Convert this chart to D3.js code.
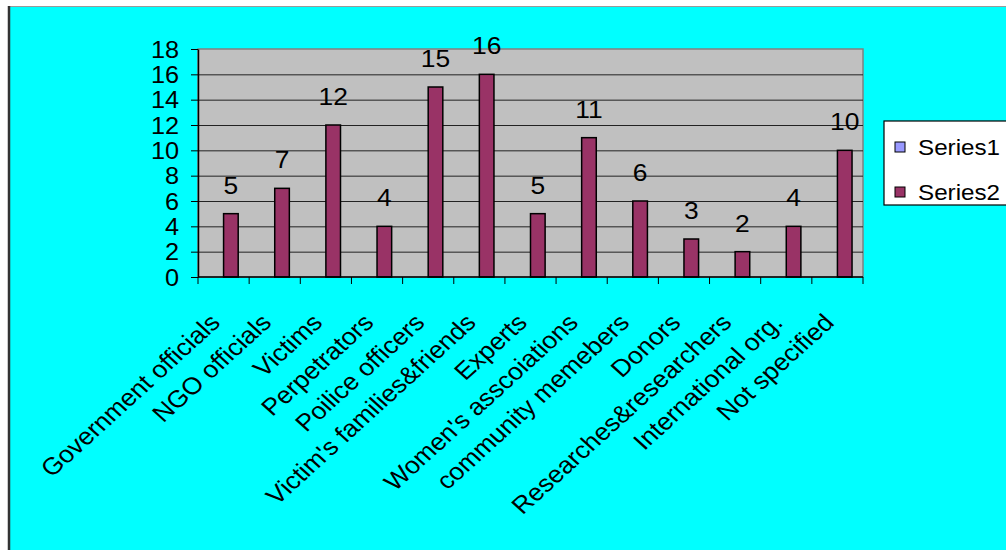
<!DOCTYPE html>
<html>
    <head>
        <meta charset="utf-8">
        <title>Interviewees by group</title>
        <style>
            html, body {margin: 0px;padding: 0px;overflow: hidden;background: #ffffff;font-family: "Liberation Sans", Arial, sans-serif;}
            svg {display: block;}
        </style>
    </head>
    <body>
        <div id="chart"></div>
        <script src="https://cdnjs.cloudflare.com/ajax/libs/d3/7.8.5/d3.min.js"></script>
        <script type="text/javascript">
        // chart values
        var categories = ["Government officials", "NGO officials", "Victims", "Perpetrators", "Poilice officers",
            "Victim's families&friends", "Experts", "Women's asscoiations", "community memebers", "Donors",
            "Researches&researchers", "International org.", "Not specified"];
        var seriesNames = ["Series1", "Series2"];
        var series1 = [null, null, null, null, null, null, null, null, null, null, null, null, null];
        var series2 = [5, 7, 12, 4, 15, 16, 5, 11, 6, 3, 2, 4, 10];
        var yTicks = [0, 2, 4, 6, 8, 10, 12, 14, 16, 18];
        var colors = {Series1: "#9999ff", Series2: "#993366"};

        var width = 1006, height = 550;
        var plot = {left: 198, top: 49, right: 863, bottom: 277};
        var stretch = 1.1; // the reference text is a bit wide

        var svg = d3.select("#chart").append("svg")
            .attr("width", width)
            .attr("height", height);

        // chart area
        svg.append("rect")
            .attr("x", 9).attr("y", 7)
            .attr("width", width).attr("height", height)
            .attr("fill", "#00ffff");
        svg.append("line")
            .attr("x1", 9).attr("x2", width).attr("y1", 6.5).attr("y2", 6.5)
            .attr("stroke", "#999999").attr("stroke-width", 1);
        svg.append("line")
            .attr("x1", 9).attr("x2", 9).attr("y1", 6).attr("y2", height)
            .attr("stroke", "#333333").attr("stroke-width", 2.5);

        var x = d3.scaleBand()
            .domain(categories)
            .range([plot.left, plot.right]);

        var x1 = d3.scaleBand()
            .domain(seriesNames)
            .range([0, x.bandwidth()])
            .paddingOuter(0.75);

        var y = d3.scaleLinear()
            .domain([0, 18])
            .range([plot.bottom, plot.top]);

        // plot area
        svg.append("rect")
            .attr("x", plot.left).attr("y", plot.top)
            .attr("width", plot.right - plot.left).attr("height", plot.bottom - plot.top)
            .attr("fill", "#c0c0c0")
            .attr("stroke", "#808080").attr("stroke-width", 1.5);

        svg.append("g")
            .selectAll("line")
            .data(yTicks.filter(function(d) { return d > 0 && d < 18; }))
          .enter().append("line")
            .attr("x1", plot.left).attr("x2", plot.right)
            .attr("y1", function(d) { return y(d) + 0.5; })
            .attr("y2", function(d) { return y(d) + 0.5; })
            .attr("stroke", "#222222").attr("stroke-width", 1);

        // bars
        var rows = categories.map(function(c, i) {
            return {cat: c, values: [{s: "Series1", v: series1[i]}, {s: "Series2", v: series2[i]}]};
        });

        var groups = svg.append("g").selectAll("g")
            .data(rows)
          .enter().append("g")
            .attr("transform", function(d) { return "translate(" + x(d.cat) + ",0)"; });

        groups.selectAll("rect")
            .data(function(d) { return d.values.filter(function(v) { return v.v != null; }); })
          .enter().append("rect")
            .attr("x", function(d) { return x1(d.s); })
            .attr("width", x1.bandwidth())
            .attr("y", function(d) { return y(d.v); })
            .attr("height", function(d) { return y(0) - y(d.v); })
            .attr("fill", function(d) { return colors[d.s]; })
            .attr("stroke", "#000000").attr("stroke-width", 1.5);

        groups.selectAll("text")
            .data(function(d) { return d.values.filter(function(v) { return v.v != null; }); })
          .enter().append("text")
            .attr("transform", function(d) {
                return "translate(" + (x1(d.s) + x1.bandwidth() / 2) + "," + (y(d.v) - 20) + ") scale(" + stretch + ",1)";
            })
            .attr("text-anchor", "middle")
            .style("font-size", "24px")
            .attr("fill", "#000000")
            .text(function(d) { return d.v; });

        // y axis
        var yAxis = svg.append("g")
            .attr("transform", "translate(" + plot.left + ",0)")
            .call(d3.axisLeft(y).tickValues(yTicks).tickSize(7).tickSizeOuter(0));
        yAxis.select(".domain").attr("stroke", "#000000").attr("stroke-width", 1.5);
        yAxis.selectAll(".tick line").attr("stroke", "#000000");
        yAxis.selectAll(".tick text")
            .attr("x", -19 / stretch)
            .attr("dy", "0.35em")
            .attr("transform", "scale(" + stretch + ",1)")
            .style("font-family", "'Liberation Sans', Arial, sans-serif")
            .style("font-size", "23px")
            .attr("fill", "#000000");

        // x axis (ticks between categories)
        var xAxis = svg.append("g")
            .attr("transform", "translate(0," + plot.bottom + ")");
        xAxis.append("line")
            .attr("x1", plot.left).attr("x2", plot.right)
            .attr("stroke", "#000000").attr("stroke-width", 1.5);
        xAxis.selectAll(".tk")
            .data(categories.concat(["end"]))
          .enter().append("line")
            .attr("class", "tk")
            .attr("x1", function(d, i) { return i < categories.length ? x(d) : plot.right; })
            .attr("x2", function(d, i) { return i < categories.length ? x(d) : plot.right; })
            .attr("y1", 0).attr("y2", 7)
            .attr("stroke", "#000000");

        svg.append("g").selectAll("text")
            .data(categories)
          .enter().append("text")
            .attr("transform", function(d) {
                return "translate(" + (x(d) + x.bandwidth() / 2 - 2) + ",324) scale(" + stretch + ",1) rotate(-45)";
            })
            .attr("text-anchor", "end")
            .style("font-size", "24px")
            .attr("fill", "#000000")
            .text(function(d) { return d; });

        // legend
        var legend = svg.append("g").attr("transform", "translate(884,121)");
        legend.append("rect")
            .attr("width", 140).attr("height", 84)
            .attr("fill", "#ffffff")
            .attr("stroke", "#000000").attr("stroke-width", 1.2);
        var item = legend.selectAll(".item")
            .data(seriesNames)
          .enter().append("g")
            .attr("class", "item")
            .attr("transform", function(d, i) { return "translate(11," + (21 + i * 45) + ")"; });
        item.append("rect")
            .attr("width", 10).attr("height", 10)
            .attr("fill", function(d) { return colors[d]; })
            .attr("stroke", "#000000").attr("stroke-width", 1);
        item.append("text")
            .attr("transform", "translate(23,13) scale(" + stretch + ",1)")
            .style("font-size", "22px")
            .attr("fill", "#000000")
            .text(function(d) { return d; });
        </script>
    </body>
</html>
